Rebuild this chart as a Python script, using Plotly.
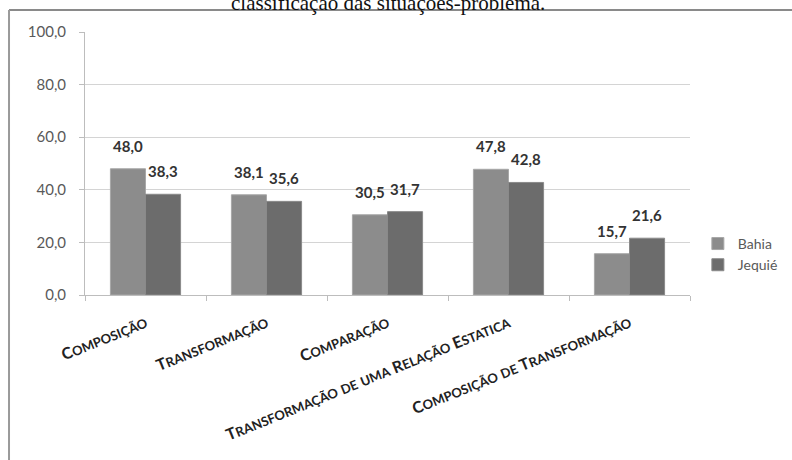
import plotly.graph_objects as go

categories = ["Composição", "Transformação", "Comparação",
              "Transformação de uma Relação Estatica", "Composição de Transformação"]
bahia = [48.0, 38.1, 30.5, 47.8, 15.7]
jequie = [38.3, 35.6, 31.7, 42.8, 21.6]
series_names = ["Bahia", "Jequié"]
y_ticks = [0, 20, 40, 60, 80, 100]
title_text = "classificação das situações-problema."


def small_caps(s, small=13):
    out = []
    for word in s.split(" "):
        if word.lower() in ("de", "uma"):
            out.append("<span style='font-size:%dpx'>%s</span>" % (small, word.upper()))
        else:
            out.append(word[0].upper() + "<span style='font-size:%dpx'>%s</span>" % (small, word[1:].upper()))
    return "<b>" + " ".join(out) + "</b>"


tick_text = [small_caps(c) for c in categories]

fig = go.Figure()
fig.add_trace(go.Bar(x=categories, y=bahia, name=series_names[0],
                     marker=dict(color="#8c8c8c", line=dict(color="#a8a8a8", width=1))))
fig.add_trace(go.Bar(x=categories, y=jequie, name=series_names[1],
                     marker=dict(color="#6c6c6c", line=dict(color="#8a8a8a", width=1))))

annotations = []
for vals, xs in ((bahia, -17.5), (jequie, 17.5)):
    for c, v in zip(categories, vals):
        annotations.append(dict(x=c, y=v, xref="x", yref="y",
                                text="<b>" + ("%.1f" % v).replace(".", ",") + "</b>",
                                showarrow=False, xshift=xs, yshift=23, yanchor="middle",
                                font=dict(family="Lato", size=15, color="#333333")))

annotations.append(dict(x=0.5, y=1.1103, xref="paper", yref="paper", text=title_text,
                        showarrow=False, yanchor="middle",
                        font=dict(family="Liberation Serif", size=21, color="#111111")))

fig.update_layout(
    width=792, height=460,
    margin=dict(l=85, r=102, t=32, b=165, autoexpand=False),
    paper_bgcolor="white", plot_bgcolor="white",
    barmode="group", bargap=0.42, bargroupgap=0,
    separators=",.",
    font=dict(family="Lato", color="#595959"),
    showlegend=True,
    legend=dict(x=1.013, y=0.255, xanchor="left", yanchor="top",
                font=dict(family="Lato", size=14, color="#595959"),
                itemwidth=30, tracegroupgap=0),
    annotations=annotations,
    shapes=[
        dict(type="line", xref="paper", yref="paper",
             x0=-0.1256, x1=1.2, y0=1.0837, y1=1.0837,
             line=dict(color="#8a8a8a", width=2)),
        dict(type="line", xref="paper", yref="paper",
             x0=-0.1256, x1=-0.1256, y0=-0.7, y1=1.0837,
             line=dict(color="#9a9a9a", width=2)),
    ],
)
fig.update_yaxes(range=[0, 100], tickvals=y_ticks, tickformat=".1f",
                 showgrid=True, gridcolor="#d4d4d4", gridwidth=1,
                 showline=True, linecolor="#bdbdbd", linewidth=1,
                 ticks="outside", ticklen=5, tickcolor="#bdbdbd",
                 ticklabelstandoff=10, automargin=False,
                 tickfont=dict(family="Lato", size=15, color="#595959"),
                 zeroline=False)
fig.update_xaxes(tickvals=categories, ticktext=tick_text, tickangle=-22,
                 showline=True, linecolor="#bdbdbd", linewidth=1,
                 ticks="outside", ticklen=5, tickcolor="#bdbdbd", tickson="boundaries",
                 ticklabelstandoff=12, automargin=False,
                 tickfont=dict(family="Lato", size=16, color="#222222"))

fig.write_html("out.html", config={"displayModeBar": False},
               post_script="document.body.style.margin='0';document.body.style.overflow='hidden';")
